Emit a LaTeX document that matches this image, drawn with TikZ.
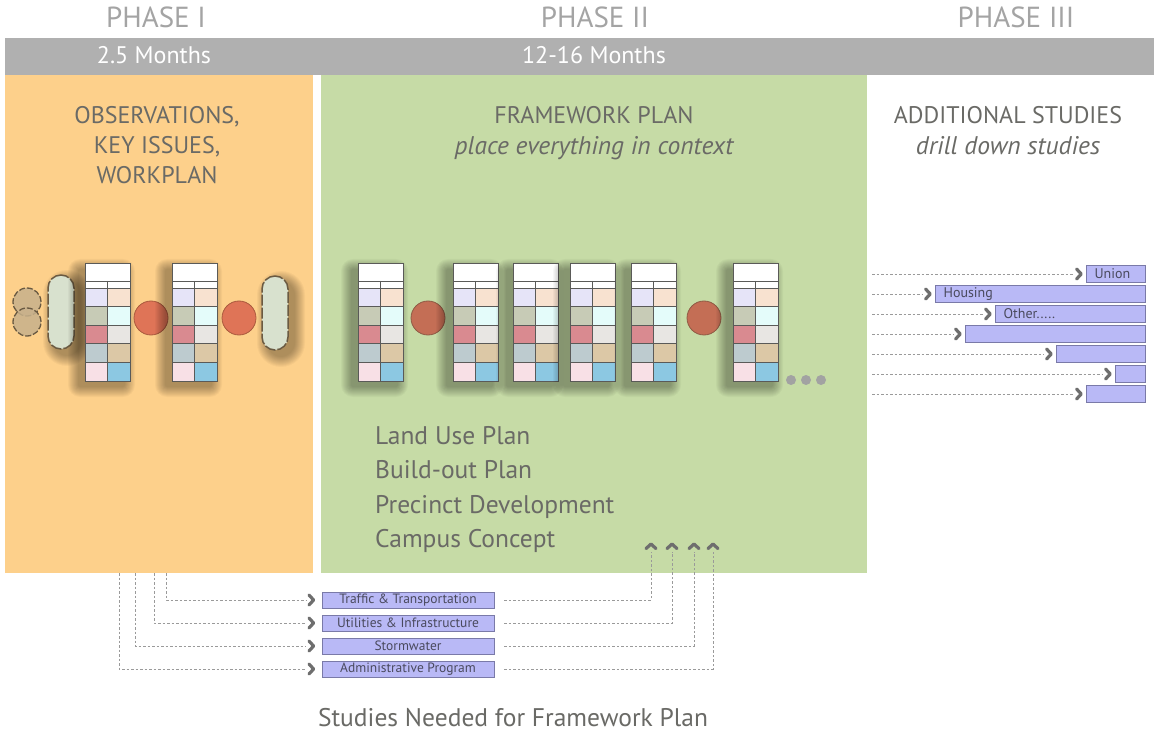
\documentclass[tikz,border=0pt]{standalone}
\usepackage{fontspec}
\setmainfont{PT Sans}
\usetikzlibrary{calc}

% palette
\definecolor{phaseorange}{HTML}{FDD08B}
\definecolor{phasegreen}{HTML}{C6DBA6}
\definecolor{barGray}{HTML}{B0B0B0}
\definecolor{headGray}{HTML}{A4A4A4}
\definecolor{bodyGray}{HTML}{6A6A66}
\definecolor{studyFill}{HTML}{B9B9F6}
\definecolor{studyLine}{HTML}{7A7AA8}
\definecolor{studyText}{HTML}{4A4A5E}
\definecolor{dotGray}{HTML}{9A9A9A}
\definecolor{chevGray}{HTML}{6E6E6E}
\definecolor{gridLine}{HTML}{5A5A58}
\definecolor{moreGray}{HTML}{A2A2A2}
% table cells
\definecolor{cellA}{HTML}{E6E4F8}
\definecolor{cellB}{HTML}{F8E2D0}
\definecolor{cellC}{HTML}{C7CBB6}
\definecolor{cellD}{HTML}{E4FCFA}
\definecolor{cellE}{HTML}{D98A90}
\definecolor{cellF}{HTML}{E8E6E3}
\definecolor{cellG}{HTML}{BDCBCF}
\definecolor{cellH}{HTML}{DCC8A6}
\definecolor{cellI}{HTML}{F8E0E6}
\definecolor{cellJ}{HTML}{8CC8E2}
% markers
\definecolor{dotRed}{HTML}{DF7457}
\definecolor{dotRedLine}{HTML}{A9593D}
\definecolor{dotMuted}{HTML}{C46E55}
\definecolor{dotMutedLine}{HTML}{8E5A44}
\definecolor{pillFill}{HTML}{D8E1CE}
\definecolor{pillLine}{HTML}{6A5A42}
\definecolor{pebbleFill}{HTML}{C8B18C}

\newcommand\pxsize[1]{\fontsize{#1}{#1}\selectfont}

% soft drop shadow: x1 y1 x2 y2 corner radius
\newcommand\softshadow[5]{%
  \foreach \i in {1,...,11}{
    \pgfmathsetmacro\rr{#5+\i}
    \fill[black, opacity=0.032, rounded corners=\rr pt] (#1-\i,#2-\i) rectangle (#3+\i,#4+\i);
  }}

% one schedule table: name, left edge
\newcommand\plantable[2]{%
  \softshadow{#2-6}{270}{#2+39}{386}{1}
  \node[tablebox] (#1) at (#2,263) {};
  \begin{scope}[shift={(#1.north west)}]
    \foreach \lc/\rc [count=\k from 0] in {cellA/cellB,cellC/cellD,cellE/cellF,cellG/cellH,cellI/cellJ}{
      \pgfmathsetmacro\ya{25+18.6*\k}
      \pgfmathsetmacro\yb{\ya+18.6}
      \fill[\lc] (0,\ya) rectangle (22,\yb);
      \fill[\rc] (22,\ya) rectangle (45,\yb);
    }
    \draw[gridLine, line width=0.8pt] (0,0) rectangle (45,118) (22,18) -- (22,118);
    \foreach \yy in {18,25,43.6,62.2,80.8,99.4}
      \draw[gridLine, line width=0.8pt] (0,\yy) -- (45,\yy);
  \end{scope}}

\begin{document}
\begin{tikzpicture}[x=1pt,y=-1pt,
  headtext/.style={anchor=base, text=headGray, font=\pxsize{29}, inner sep=0},
  monthtext/.style={anchor=base, text=white, font=\pxsize{24}, inner sep=0},
  titletext/.style={anchor=base, text=bodyGray, font=\pxsize{24}, inner sep=0},
  slanttext/.style={titletext, font=\pxsize{25.5}\itshape},
  listtext/.style={anchor=base west, text=bodyGray, font=\pxsize{25.5}, inner sep=0},
  tablebox/.style={rectangle, anchor=north west, minimum width=45pt, minimum height=118pt,
    inner sep=0, fill=white},
  bigdot/.style={circle, minimum size=34pt, inner sep=0, fill=dotRed, draw=dotRedLine, line width=0.8pt},
  muteddot/.style={bigdot, fill=dotMuted, draw=dotMutedLine},
  pill/.style={rectangle, rounded corners=13pt, minimum width=26pt, minimum height=74pt, inner sep=0,
    fill=pillFill, draw=pillLine, line width=1.5pt, dash pattern=on 11pt off 2pt},
  pebble/.style={circle, minimum size=28pt, inner sep=0, fill=pebbleFill, fill opacity=0.85,
    draw=pillLine, line width=1.3pt, dash pattern=on 6pt off 2pt},
  moredot/.style={circle, minimum size=10pt, inner sep=0, fill=moreGray},
  studybox/.style={rectangle, minimum width=172pt, minimum height=16pt, inner sep=0,
    fill=studyFill, draw=studyLine, line width=0.8pt, text=studyText, font=\pxsize{13.5}},
  studybar/.style={rectangle, anchor=east, minimum height=17pt, inner xsep=8pt, inner ysep=0,
    fill=studyFill, draw=studyLine, line width=0.8pt, text=studyText, font=\pxsize{14}, align=left},
  dotline/.style={draw=dotGray, line width=0.9pt, dash pattern=on 2.5pt off 2pt},
  % bold chevron marking the end of a dotted connector; its point sits at the origin
  chevron/.pic={\draw[chevGray, line width=3.2pt, line cap=round, line join=round]
    (-4.6,-5) -- (0,0) -- (-4.6,5);},
]
\useasboundingbox (0,0) rectangle (1154,735);
\fill[white] (0,0) rectangle (1154,735);

% phase bands
\fill[barGray] (5,38) rectangle (1154,75);
\fill[phaseorange] (5,75) rectangle (313,573);
\fill[phasegreen] (321,75) rectangle (867,573);

% headings
\node[headtext] (ph1) at (156,28) {PHASE I};
\node[headtext] (ph2) at (595,28) {PHASE II};
\node[headtext] (ph3) at (1016,28) {PHASE III};
\node[monthtext] (m1) at (154,64) {2.5 Months};
\node[monthtext] (m2) at (594,64) {12-16 Months};

\node[titletext] (obs1) at (157,124) {OBSERVATIONS,};
\node[titletext] (obs2) at (157,154) {KEY ISSUES,};
\node[titletext] (obs3) at (157,184) {WORKPLAN};
\node[titletext] (fw1) at (594,124) {FRAMEWORK PLAN};
\node[slanttext] (fw2) at (594,155) {place everything in context};
\node[titletext] (ad1) at (1008,124) {ADDITIONAL STUDIES};
\node[slanttext] (ad2) at (1008,155) {drill down studies};

% phase I sequence
\node[pebble] (pb1) at (27,302) {};
\node[pebble] (pb2) at (27,322) {};
\softshadow{54}{281}{80}{355}{13}
\node[pill] (pl1) at (61,312) {};
\plantable{ta}{85}
\node[bigdot] (ca) at (151,318) {};
\plantable{tb}{172}
\node[bigdot] (cb) at (239,318) {};
\softshadow{268}{282}{294}{356}{13}
\node[pill] (pl2) at (275,313) {};

% phase II sequence
\plantable{tc}{358}
\node[muteddot] (cc) at (428,318) {};
\plantable{td}{453}
\plantable{te}{513}
\plantable{tf}{570}
\plantable{tg}{631}
\node[muteddot] (cd) at (704,318) {};
\plantable{th}{733}
\node[moredot] (d1) at (791,380) {};
\node[moredot] (d2) at (806,380) {};
\node[moredot] (d3) at (821,380) {};

\node[listtext] (l1) at (375,444) {Land Use Plan};
\node[listtext] (l2) at (375,478.5) {Build-out Plan};
\node[listtext] (l3) at (375,513) {Precinct Development};
\node[listtext] (l4) at (375,547.5) {Campus Concept};

% studies feeding the framework plan
\node[studybox] (traffic) at (408,600) {Traffic \& Transportation};
\node[studybox] (utilities) at (408,623) {Utilities \& Infrastructure};
\node[studybox] (storm) at (408,646) {Stormwater};
\node[studybox] (admin) at (408,669) {Administrative Program};

\coordinate (o1) at (166,573);
\coordinate (o2) at (154,573);
\coordinate (o3) at (135,573);
\coordinate (o4) at (119,573);
\foreach \src/\dst in {o1/traffic, o2/utilities, o3/storm, o4/admin}{
  \draw[dotline, shorten >=16pt] (\src) |- (\dst.west);
  \pic at ([xshift=-8pt]\dst.west) {chevron};
}

% return paths up into the framework plan
\coordinate (u1) at (651,552);
\coordinate (u2) at (672,552);
\coordinate (u3) at (694,552);
\coordinate (u4) at (713,552);
\foreach \src/\dst in {traffic/u1, utilities/u2, storm/u3, admin/u4}{
  \draw[dotline] ([xshift=10pt]\src.east) -| (\dst);
  \pic[rotate=90] at ([yshift=8pt]\dst) {chevron};
}

% phase III drill down studies
\node[studybar, text width=43pt] (s1) at (1146,274) {Union};
\node[studybar, text width=194pt] (s2) at (1146,294) {Housing};
\node[studybar, text width=134pt] (s3) at (1146,314) {Other.....};
\node[studybar, minimum width=180pt] (s4) at (1146,334) {};
\node[studybar, minimum width=89pt] (s5) at (1146,354) {};
\node[studybar, minimum width=30pt] (s6) at (1146,374) {};
\node[studybar, minimum width=59pt] (s7) at (1146,394) {};

\foreach \k in {1,...,7}{
  \coordinate (r\k) at (872,254+20*\k);
  \draw[dotline, shorten >=12pt] (r\k) -- (s\k.west);
  \pic at ([xshift=-5pt]s\k.west) {chevron};
}

\node[titletext, font=\pxsize{25.5}] (foot) at (513,726) {Studies Needed for Framework Plan};
\end{tikzpicture}
\end{document}
